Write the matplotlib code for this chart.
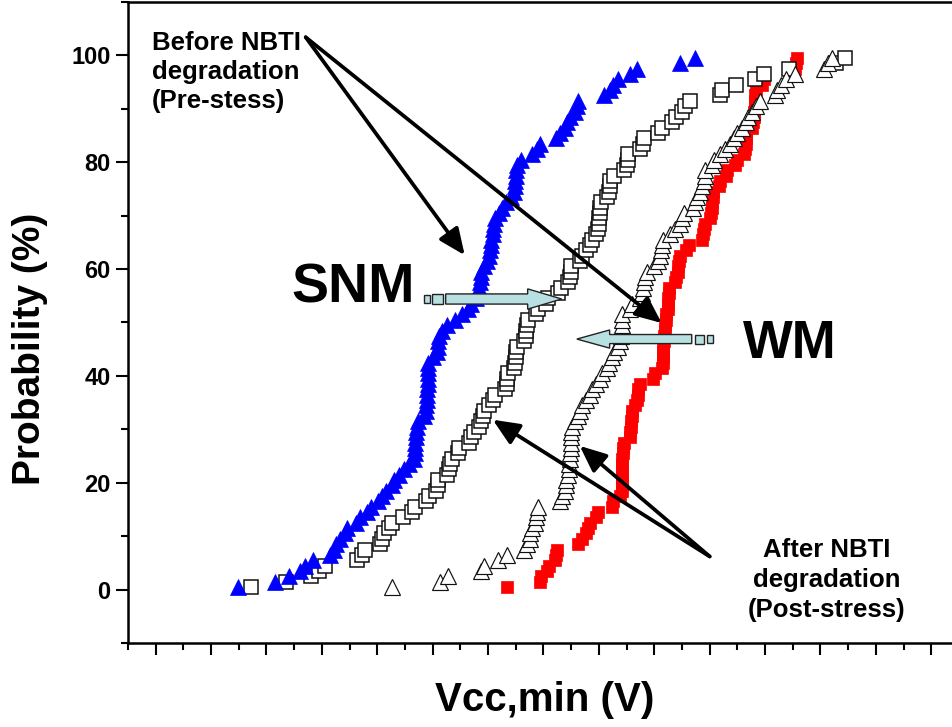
import matplotlib
matplotlib.use("Agg")
import matplotlib.pyplot as plt
from matplotlib.ticker import MultipleLocator, NullFormatter
from matplotlib.patches import Polygon, Rectangle

plt.rcParams['font.family'] = ['Liberation Sans', 'DejaVu Sans']
plt.rcParams['font.weight'] = 'bold'

# cumulative probability levels (%) shared by all four distributions
prob = [0.5, 1.5, 2.5, 3.5, 4.5, 5.5, 6.5, 7.5, 8.5, 9.5,
        10.5, 11.5, 12.5, 13.5, 14.5, 15.5, 16.5, 17.5, 18.5, 19.5,
        20.5, 21.5, 22.5, 23.5, 24.5, 25.5, 26.5, 27.5, 28.5, 29.5,
        30.5, 31.5, 32.5, 33.5, 34.5, 35.5, 36.5, 37.5, 38.5, 39.5,
        40.5, 41.5, 42.5, 43.5, 44.5, 45.5, 46.5, 47.5, 48.5, 49.5,
        50.5, 51.5, 52.5, 53.5, 54.5, 55.5, 56.5, 57.5, 58.5, 59.5,
        60.5, 61.5, 62.5, 63.5, 64.5, 65.5, 66.5, 67.5, 68.5, 69.5,
        70.5, 71.5, 72.5, 73.5, 74.5, 75.5, 76.5, 77.5, 78.5, 79.5,
        80.5, 81.5, 82.5, 83.5, 84.5, 85.5, 86.5, 87.5, 88.5, 89.5,
        90.5, 91.5, 92.5, 93.5, 94.5, 95.5, 96.5, 97.5, 98.5, 99.5]

# SNM Vcc,min (V): before NBTI stress
snm_pre = [0.574, 0.608, 0.620, 0.630, 0.635, 0.642, 0.657, 0.661, 0.663, 0.666,
           0.671, 0.673, 0.681, 0.684, 0.691, 0.694, 0.701, 0.704, 0.708, 0.713,
           0.715, 0.720, 0.724, 0.729, 0.733, 0.734, 0.734, 0.734, 0.735, 0.735,
           0.736, 0.737, 0.742, 0.744, 0.744, 0.745, 0.745, 0.745, 0.746, 0.746,
           0.746, 0.746, 0.746, 0.750, 0.754, 0.755, 0.755, 0.756, 0.758, 0.763,
           0.770, 0.776, 0.782, 0.785, 0.789, 0.791, 0.792, 0.793, 0.794, 0.794,
           0.796, 0.799, 0.801, 0.802, 0.803, 0.803, 0.804, 0.804, 0.805, 0.806,
           0.810, 0.813, 0.816, 0.821, 0.823, 0.824, 0.824, 0.825, 0.825, 0.826,
           0.830, 0.840, 0.844, 0.847, 0.861, 0.865, 0.869, 0.871, 0.874, 0.878,
           0.880, 0.881, 0.905, 0.910, 0.913, 0.917, 0.928, 0.934, 0.973, 0.987]

# SNM Vcc,min (V): after NBTI stress
snm_post = [0.586, 0.618, 0.640, 0.647, 0.653, 0.682, 0.686, 0.689, 0.702, 0.704,
            0.706, 0.711, 0.713, 0.723, 0.731, 0.734, 0.744, 0.747, 0.753, 0.755,
            0.755, 0.763, 0.765, 0.766, 0.767, 0.773, 0.774, 0.783, 0.785, 0.787,
            0.792, 0.794, 0.795, 0.796, 0.801, 0.804, 0.806, 0.815, 0.817, 0.817,
            0.818, 0.823, 0.824, 0.825, 0.825, 0.826, 0.832, 0.834, 0.834, 0.835,
            0.836, 0.843, 0.845, 0.852, 0.854, 0.863, 0.866, 0.872, 0.874, 0.875,
            0.875, 0.883, 0.885, 0.888, 0.892, 0.894, 0.897, 0.899, 0.900, 0.900,
            0.901, 0.901, 0.902, 0.907, 0.909, 0.910, 0.910, 0.914, 0.923, 0.925,
            0.926, 0.926, 0.937, 0.940, 0.941, 0.953, 0.957, 0.966, 0.970, 0.975,
            0.978, 0.982, 1.009, 1.011, 1.024, 1.041, 1.049, 1.072, 1.114, 1.122]

# WM Vcc,min (V): before NBTI stress
wm_pre = [0.817, 0.847, 0.848, 0.853, 0.855, 0.860, 0.861, 0.862, 0.881, 0.885,
          0.888, 0.890, 0.892, 0.897, 0.899, 0.912, 0.913, 0.919, 0.921, 0.921,
          0.921, 0.921, 0.921, 0.921, 0.921, 0.922, 0.922, 0.923, 0.928, 0.928,
          0.929, 0.929, 0.930, 0.930, 0.933, 0.934, 0.935, 0.935, 0.937, 0.949,
          0.951, 0.957, 0.958, 0.958, 0.958, 0.958, 0.959, 0.959, 0.960, 0.960,
          0.961, 0.961, 0.962, 0.962, 0.962, 0.963, 0.963, 0.969, 0.970, 0.971,
          0.971, 0.972, 0.973, 0.979, 0.981, 0.993, 0.994, 0.995, 0.996, 1.000,
          1.001, 1.002, 1.002, 1.003, 1.003, 1.008, 1.009, 1.015, 1.016, 1.023,
          1.025, 1.031, 1.032, 1.033, 1.033, 1.033, 1.038, 1.039, 1.040, 1.040,
          1.041, 1.041, 1.041, 1.042, 1.047, 1.049, 1.075, 1.077, 1.078, 1.079]

# WM Vcc,min (V): after NBTI stress
wm_post = [0.713, 0.757, 0.764, 0.794, 0.796, 0.809, 0.817, 0.832, 0.835, 0.838,
           0.838, 0.840, 0.842, 0.843, 0.844, 0.845, 0.865, 0.867, 0.869, 0.870,
           0.870, 0.872, 0.873, 0.873, 0.874, 0.874, 0.875, 0.875, 0.875, 0.875,
           0.876, 0.878, 0.881, 0.883, 0.885, 0.888, 0.892, 0.894, 0.897, 0.901,
           0.903, 0.907, 0.909, 0.912, 0.914, 0.917, 0.919, 0.920, 0.921, 0.921,
           0.921, 0.921, 0.928, 0.930, 0.937, 0.939, 0.940, 0.941, 0.942, 0.943,
           0.950, 0.953, 0.955, 0.956, 0.957, 0.958, 0.964, 0.969, 0.973, 0.975,
           0.977, 0.985, 0.987, 0.989, 0.991, 0.993, 0.995, 0.996, 0.996, 1.002,
           1.004, 1.009, 1.014, 1.018, 1.022, 1.025, 1.029, 1.033, 1.035, 1.038,
           1.042, 1.045, 1.059, 1.061, 1.064, 1.069, 1.077, 1.103, 1.107, 1.110]

y_ticks = [0, 20, 40, 60, 80, 100]

fig = plt.figure(figsize=(9.52, 7.27), dpi=100)
ax = fig.add_axes([128 / 952, 84 / 727, 824 / 952, 641 / 727])
ax.set_xlim(0.475, 1.2187)
ax.set_ylim(-10, 110)

# data series
ax.plot(wm_pre, prob, ls='none', marker='s', ms=9.3, mfc='#ff0000', mec='#ff0000',
        mew=0.5, zorder=3)
ax.plot(snm_post, prob, ls='none', marker='s', ms=9.6, mfc='white', mec='#111111',
        mew=1.1, zorder=3)
ax.plot(wm_post, prob, ls='none', marker='^', ms=11.3, mfc='white', mec='#111111',
        mew=0.85, zorder=3)
ax.plot(snm_pre, prob, ls='none', marker='^', ms=11.3, mfc='#0000ff', mec='#0000ff',
        mew=0.5, zorder=3)

# axes styling
for side in ('left', 'bottom', 'top'):
    ax.spines[side].set_linewidth(1.8)
ax.spines['right'].set_visible(False)
ax.xaxis.set_major_locator(MultipleLocator(0.05))
ax.xaxis.set_minor_locator(MultipleLocator(0.025))
ax.xaxis.set_major_formatter(NullFormatter())
ax.set_yticks(y_ticks)
ax.yaxis.set_minor_locator(MultipleLocator(10))
ax.tick_params(axis='both', which='major', direction='out', length=8.5, width=1.5)
ax.tick_params(axis='both', which='minor', direction='out', length=5, width=1.5)
ax.tick_params(axis='y', which='major', labelsize=17, pad=4)
ax.tick_params(top=False, right=False, which='both')
for lab in ax.get_yticklabels():
    lab.set_fontweight('bold')

fig.text(30 / 952, 1 - 349 / 727, 'Probability (%)', rotation=90, ha='center',
         va='center', fontsize=28, fontweight='bold')
fig.text(545 / 952, 1 - 700 / 727, 'Vcc,min (V)', ha='center', va='center',
         fontsize=29, fontweight='bold')


def block_arrow(x_tail, x_base, x_tip, yc, hb, hh):
    pts = [(x_tail, yc - hb), (x_base, yc - hb), (x_base, yc - hh), (x_tip, yc),
           (x_base, yc + hh), (x_base, yc + hb), (x_tail, yc + hb)]
    ax.add_patch(Polygon(pts, closed=True, facecolor='#b8dfe1', edgecolor='#222222',
                         lw=1.0, zorder=5))


def tail_box(x0, x1, yc, hb):
    ax.add_patch(Rectangle((x0, yc - hb), x1 - x0, 2 * hb, facecolor='#b8dfe1',
                           edgecolor='#222222', lw=1.0, zorder=5))


# SNM shift arrow (to the right)
block_arrow(0.7617, 0.8357, 0.8664, 54.4, 0.95, 1.9)
tail_box(0.7419, 0.7473, 54.4, 0.8)
tail_box(0.7491, 0.7590, 54.4, 0.9)
# WM shift arrow (to the left)
block_arrow(0.9838, 0.9097, 0.8801, 46.9, 0.85, 1.7)
tail_box(0.9865, 0.9946, 46.9, 0.85)
tail_box(0.9973, 1.0027, 46.9, 0.8)

ax.text(0.6227, 53.8, 'SNM', ha='left', va='baseline', fontsize=40,
        fontweight='bold', zorder=6)
ax.text(1.0298, 43.4, 'WM', ha='left', va='baseline', fontsize=38,
        fontweight='bold', zorder=6)

ax.text(0.4964, 104.6, 'Before NBTI\ndegradation\n(Pre-stess)', ha='left', va='top',
        fontsize=18.5, fontweight='bold', linespacing=1.28, zorder=6)
ax.text(1.1056, 9.6, 'After NBTI\ndegradation\n(Post-stress)', ha='center', va='top',
        multialignment='center', fontsize=18.5, fontweight='bold', linespacing=1.3,
        zorder=6)

arrow_kw = dict(arrowstyle='-|>,head_length=0.8,head_width=0.35', lw=2.7,
                color='black', shrinkA=0, shrinkB=0, mutation_scale=20)
before_src = (0.6354, 103.4)
for tip in [(0.7789, 62.6), (0.9567, 49.9)]:
    ax.annotate('', xy=tip, xytext=before_src, arrowprops=arrow_kw, zorder=6)
after_src = (1.0000, 6.2)
for tip in [(0.8042, 31.8), (0.8827, 26.9)]:
    ax.annotate('', xy=tip, xytext=after_src, arrowprops=arrow_kw, zorder=6)

fig.savefig('out.png', dpi=100)
